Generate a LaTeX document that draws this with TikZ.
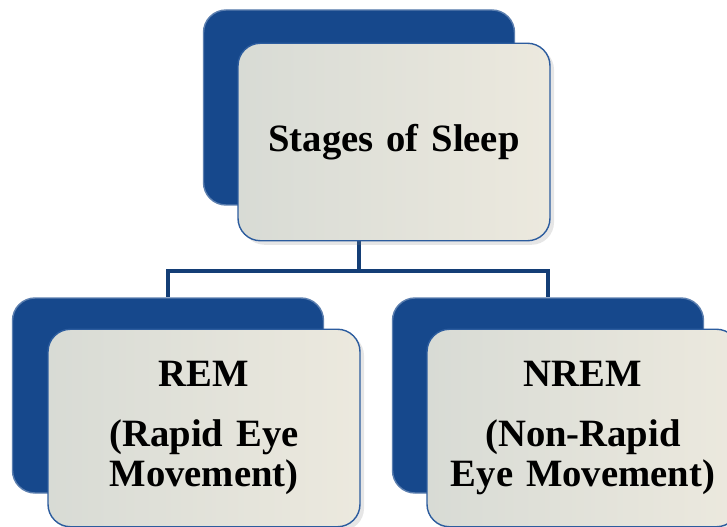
\documentclass[tikz,border=0pt]{standalone}
\usepackage{fontspec}
\setmainfont{Liberation Serif}
\usetikzlibrary{positioning, calc, backgrounds, shadows}
\definecolor{backblue}{RGB}{22,72,140}
\definecolor{linkblue}{RGB}{20,62,118}
\definecolor{frontleft}{RGB}{216,219,213}
\definecolor{frontright}{RGB}{236,233,222}
\definecolor{frontedge}{RGB}{44,92,158}

\begin{document}
\begin{tikzpicture}[
    backbox/.style={rectangle, fill=backblue, draw=backblue!70!white, line width=0.8pt, rounded corners=0.45cm, minimum width=6.22cm, minimum height=3.9cm},
    frontbox/.style={rectangle, left color=frontleft, right color=frontright, draw=frontedge, line width=0.8pt, rounded corners=0.45cm, minimum width=6.24cm, minimum height=3.95cm, text width=5.8cm, align=center, font=\fontsize{22}{23}\selectfont\bfseries, drop shadow={opacity=0.2}},
    link/.style={draw=linkblue, line width=2.4pt}
]
\useasboundingbox (0,0) rectangle (14.54,-10.54);

% Back panels
\node[backbox] (sleep_back) at (7.18,-2.15) {};
\node[backbox] (rem_back) at (3.36,-7.91) {};
\node[backbox] (nrem_back) at (10.96,-7.91) {};

% Tree links
\draw[link] (sleep_back.south) -- ++(0,-1.3) coordinate (bus) -| (rem_back.north);
\draw[link] (bus) -| (nrem_back.north);

% Front panels
\node[frontbox] (sleep) at ($(sleep_back.center)+(0.7,-0.69)$) {Stages of Sleep};
\node[frontbox] (rem) at ($(rem_back.center)+(0.72,-0.65)$) {REM\\[11pt](Rapid Eye\\Movement)};
\node[frontbox] (nrem) at ($(nrem_back.center)+(0.7,-0.65)$) {NREM\\[11pt](Non-Rapid\\Eye Movement)};

\end{tikzpicture}
\end{document}
